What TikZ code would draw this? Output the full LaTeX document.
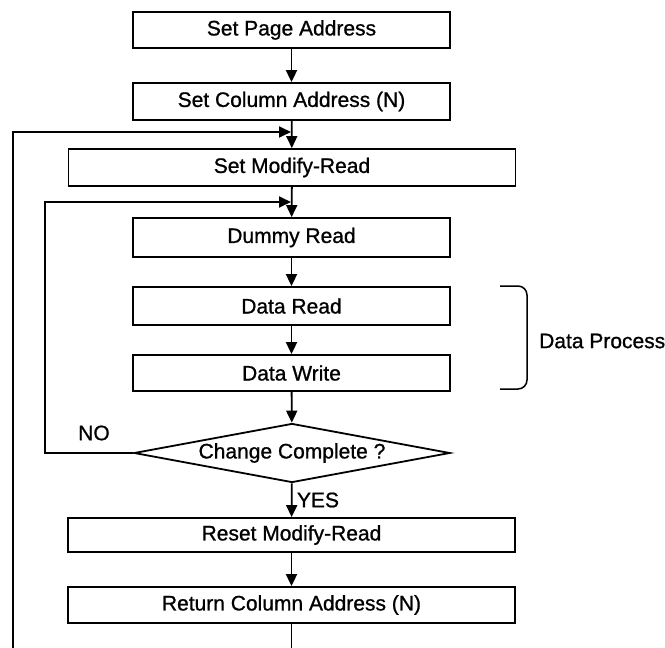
\documentclass[tikz,border=0pt]{standalone}
\usepackage{fontspec}
\setmainfont[RawFeature={embolden=0.9}]{Liberation Sans}
\usetikzlibrary{arrows.meta,shapes.geometric}
\begin{document}
\begin{tikzpicture}[x=1pt,y=-1pt,
  every node/.style={font=\fontsize{21}{24}\selectfont},
  stepbox/.style={draw,line width=1.8pt,inner sep=0pt,minimum height=37pt},
  narrow/.style={stepbox,minimum width=317pt},
  wide/.style={stepbox,minimum width=447pt},
  decision/.style={draw,diamond,line width=1.8pt,aspect=5.36,inner sep=0pt,minimum width=316pt,minimum height=59pt},
  link/.style={line width=1.8pt,-{Triangle[width=11pt,length=12pt]}},
  plain/.style={line width=1.8pt},
  lbl/.style={inner sep=0pt}
]
\useasboundingbox (0,0) rectangle (665,648);
\node[narrow,minimum height=36pt] (p1) at (291.5,30) {Set Page Address};
\node[narrow] (p2) at (291.5,101.5) {Set Column Address (N)};
\node[wide] (p3) at (292,167.5) {Set Modify-Read};
\node[narrow,minimum height=39pt] (p4) at (291.5,237.5) {Dummy Read};
\node[narrow,minimum height=38pt] (p5) at (291.5,306) {Data Read};
\node[narrow,minimum height=36pt] (p6) at (291.5,373) {Data Write};
\node[decision] (d) at (292,453) {Change Complete ?};
\node[wide,minimum height=34pt] (p7) at (291.5,535) {Reset Modify-Read};
\node[wide,minimum height=36pt] (p8) at (291.5,605) {Return Column Address (N)};

\coordinate (bot) at (291.5,648);
\coordinate (ob) at (13,648);
\coordinate (oc) at (13,132);
\coordinate (oe) at (291,132);
\coordinate (ic) at (45,453);
\coordinate (it) at (45,202);
\coordinate (ie) at (291,202);

\draw[link] (p1) -- (p2);
\draw[link] (p2) -- (p3);
\draw[link] (p3) -- (p4);
\draw[link] (p4) -- (p5);
\draw[link] (p5) -- (p6);
\draw[link] (p6) -- (d);
\draw[link] (d) -- (p7);
\draw[link] (p7) -- (p8);
\draw[plain] (p8) -- (bot);
\draw[link] (ob) -- (oc) -- (oe);
\draw[link] (d.west) -- (ic) -- (it) -- (ie);

\node[lbl] (no) at (94,433) {NO};
\node[lbl] (yes) at (318,500) {YES};

\coordinate (b1) at (500,286);
\coordinate (b2) at (527,286);
\coordinate (b3) at (527,389);
\coordinate (b4) at (500,389);
\draw[line width=1.5pt,rounded corners=9pt] (b1) -- (b2) -- (b3) -- (b4);
\node[lbl,anchor=west] (dp) at (539,341) {Data Process};
\end{tikzpicture}
\end{document}
